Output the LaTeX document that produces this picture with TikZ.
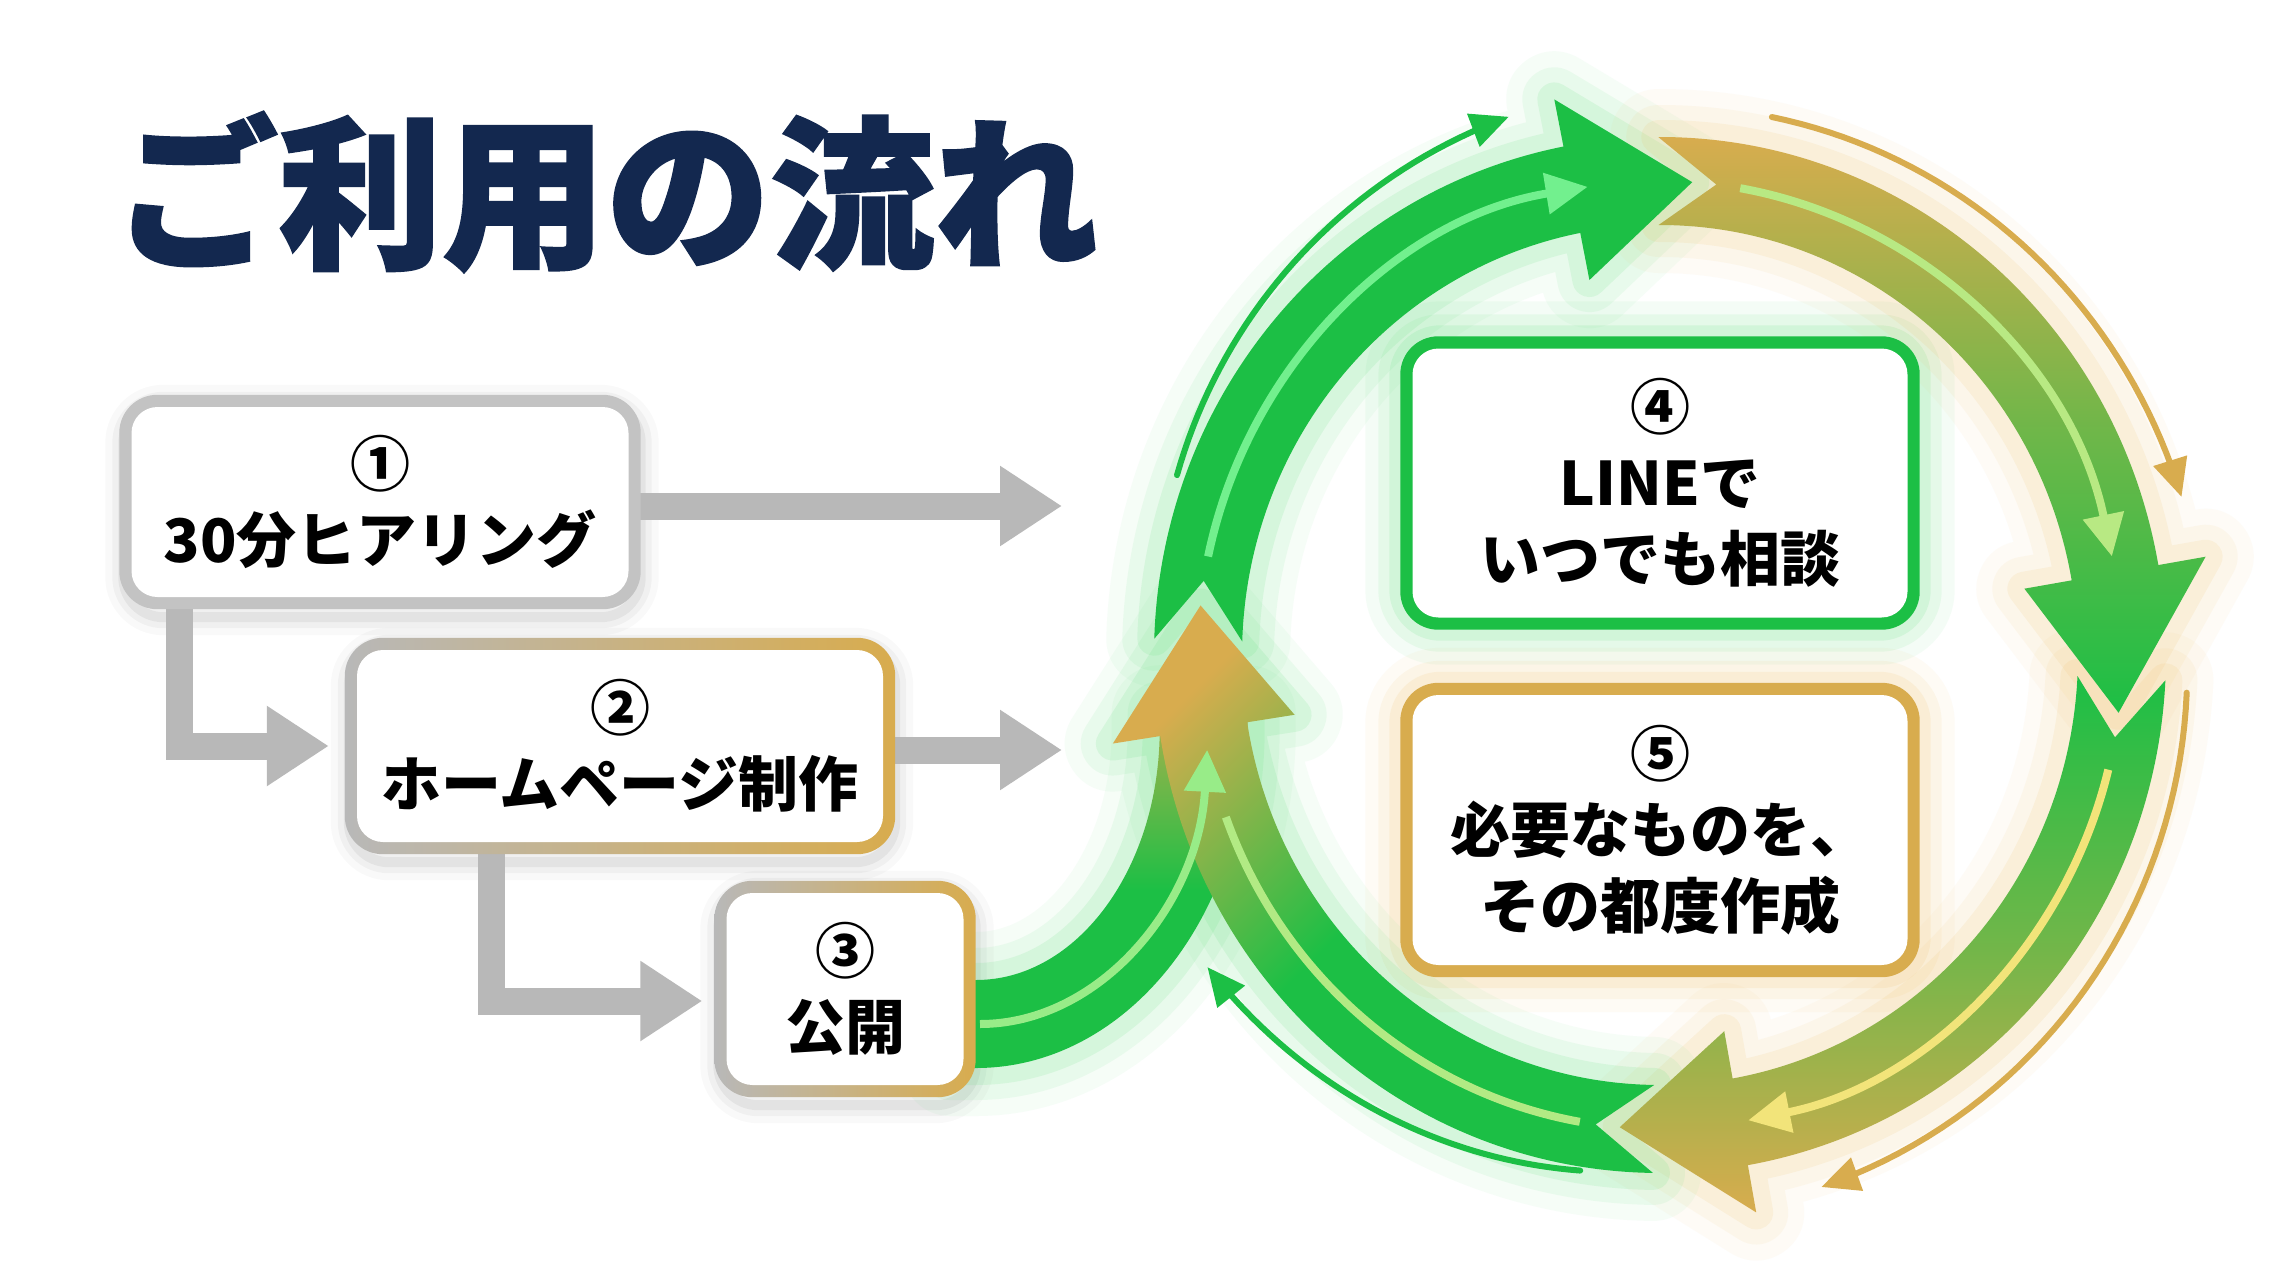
\documentclass[tikz,border=0pt]{standalone}
\usepackage{fontspec}
\newfontfamily\jp{Noto Sans CJK JP}
\newfontfamily\jpt{Noto Sans CJK JP}[BoldFeatures={FakeBold=1.5}]
\usetikzlibrary{arrows.meta,calc}
\pgfdeclarelayer{glow}
\pgfdeclarelayer{arr}
\pgfdeclarelayer{mid}
\pgfsetlayers{glow,arr,mid,main}
\definecolor{navy}{HTML}{13284F}
\definecolor{grn}{HTML}{1CBF45}
\definecolor{grnl}{HTML}{72F08E}
\definecolor{gld}{HTML}{D8AC4E}
\definecolor{gry}{HTML}{B8B8B8}
\definecolor{ylw}{HTML}{F2E47A}
\definecolor{glowg}{HTML}{4FDC6E}
\definecolor{glowo}{HTML}{F0BE60}
\newcommand\RXm{462pt}\newcommand\RYm{474pt}
\newcommand\RXo{506pt}\newcommand\RYo{518pt}
\newcommand\RXi{418pt}\newcommand\RYi{430pt}
\newcommand\RXh{554pt}\newcommand\RYh{566pt}
\newcommand\RXl{370pt}\newcommand\RYl{382pt}
% ring arrow band: options, tail angle, head base angle, tip angle, notch depth
\newcommand\ringband[5]{%
  \path[#1] (#2:{\RXo} and {\RYo}) arc[start angle=#2, end angle=#3, x radius=\RXo, y radius=\RYo]
    -- (#3:{\RXh} and {\RYh}) -- (#4:{\RXm} and {\RYm}) -- (#3:{\RXl} and {\RYl}) -- (#3:{\RXi} and {\RYi})
    arc[start angle=#3, end angle=#2, x radius=\RXi, y radius=\RYi]
    -- ({#2-#5}:{\RXm} and {\RYm}) -- cycle;}
\newcommand\ringglow[5]{%
  \foreach \ww/\oo in {96/0.05,64/0.08,34/0.12}{%
    \ringband{draw=#1,line width=\ww pt,opacity=\oo,line join=round}{#2}{#3}{#4}{#5}}}
\newcommand\sband[1]{%
  \path[#1] (950,-1068) -- (976,-1068)
    arc[start angle=-90, end angle=0, x radius=271.7, y radius=338.8]
    -- ++(0,16) -- (1159.7,-713.2) -- (1159.7,-729.2)
    arc[start angle=0, end angle=-90, x radius=183.7, y radius=250.8]
    -- (950,-980) -- cycle;}
\begin{document}
\begin{tikzpicture}[x=1pt,y=1pt,
  jptext/.style={font=\jp\bfseries\fontsize{60pt}{76pt}\selectfont, align=center, text=black},
  boxnode/.style={jptext, fill=white, rounded corners=26pt, inner sep=0pt},
  grayarrow/.style={draw=gry, line width=27pt, line join=miter, -{Triangle[length=62pt,width=76pt]}},
  hl/.style={line width=8pt, -{Triangle[length=42pt,width=40pt]}},
  thinarc/.style={line width=6pt, line cap=round, -{Triangle[length=38pt,width=34pt]}}]
\useasboundingbox (0,0) rectangle (2294,-1280);

% ---------- nodes ----------
\node[font=\jpt\bfseries\fontsize{164pt}{176pt}\selectfont, text=navy, anchor=west, inner sep=0pt] (title) at (114,-192) {ご利用の流れ};
\node[boxnode, minimum width=497pt, minimum height=190pt] (b1) at (380,-502) {①\\30分ヒアリング};
\node[boxnode, minimum width=526pt, minimum height=192pt] (b2) at (620,-746) {②\\ホームページ制作};
\node[boxnode, minimum width=237pt, minimum height=192pt] (b3) at (845,-989) {③\\公開};
\node[boxnode, minimum width=495pt, minimum height=269pt] (b4) at (1660,-483) {④\\LINEで\\いつでも相談};
\node[boxnode, minimum width=495pt, minimum height=270pt] (b5) at (1660,-830) {⑤\\必要なものを、\\その都度作成};
\coordinate (t1) at (1062,-506);
\coordinate (t2) at (1062,-750);

% ---------- glows and shadows ----------
\begin{pgfonlayer}{glow}
  \fill[white] (0,0) rectangle (2294,-1280);
  \foreach \n in {b1,b2,b3}{
    \foreach \ww/\oo in {36/0.025,22/0.035,10/0.05}{
      \draw[black, line width=\ww pt, opacity=\oo, rounded corners=40pt]
        ($(\n.south west)+(-8,-20)$) rectangle ($(\n.north east)+(12,4)$);}}
  \foreach \ww/\oo in {70/0.06,44/0.09,22/0.13}{
    \draw[glowg, line width=\ww pt, opacity=\oo, rounded corners=40pt]
      ($(b4.south west)+(-12,-12)$) rectangle ($(b4.north east)+(12,12)$);
    \draw[glowo, line width=\ww pt, opacity=\oo, rounded corners=40pt]
      ($(b5.south west)+(-12,-12)$) rectangle ($(b5.north east)+(12,12)$);}
  \foreach \ww/\oo in {96/0.05,64/0.08,34/0.12}{
    \sband{draw=glowg,line width=\ww pt,opacity=\oo,line join=round}}
  \begin{scope}[shift={(1660,-655)}]
    \ringglow{glowg}{178.2}{101}{86}{7.2}
    \ringglow{glowo}{90.2}{10}{-7}{7.2}
    \ringglow{glowo}{-2.8}{-80}{-95}{7.2}
    \ringglow{glowg}{-90.8}{-171}{-186}{7.2}
  \end{scope}
\end{pgfonlayer}

% ---------- arrows and ring ----------
\begin{pgfonlayer}{arr}
  \draw[grayarrow] (b1.east |- t1) -- (t1);
  \draw[grayarrow] (b2.east |- t2) -- (t2);
  \draw[grayarrow, shorten >=28pt] ([xshift=48pt]b1.south west) |- (b2.west);
  \draw[grayarrow, shorten >=24pt] ([xshift=135pt]b2.south west) |- ([yshift=-12pt]b3.west);

  \sband{top color=gld!75!grn, bottom color=grn, middle color=grn}

  \begin{scope}[shift={(1660,-655)}]
    \ringband{top color=gld, bottom color=grn, middle color=grn, shading angle=45}{-90.8}{-171}{-186}{7.2}
    \ringband{fill=grn}{178.2}{101}{86}{7.2}
    \ringband{top color=gld, bottom color=grn, middle color=gld!45!grn}{90.2}{10}{-7}{7.2}
    \ringband{top color=grn, bottom color=gld, middle color=grn!55!gld}{-2.8}{-80}{-95}{7.2}
    % highlights
    \draw[hl, grnl] (168:{\RXm} and {\RYm}) arc[start angle=168, end angle=99, x radius=\RXm, y radius=\RYm];
    \draw[hl, ylw!55!grnl] (80:{\RXm} and {\RYm}) arc[start angle=80, end angle=12, x radius=\RXm, y radius=\RYm];
    \draw[hl, ylw] (-14:{\RXm} and {\RYm}) arc[start angle=-14, end angle=-79, x radius=\RXm, y radius=\RYm];
    \draw[line width=8pt, grnl!50!ylw] (-100:{\RXm} and {\RYm}) arc[start angle=-100, end angle=-160, x radius=\RXm, y radius=\RYm];
    % thin outer arcs
    \draw[thinarc, grn] plot[variable=\t, domain=0:1, samples=40] ({160-54*\t}:{514+34*\t} and {526+34*\t});
    \draw[thinarc, gld] plot[variable=\t, domain=0:1, samples=40] ({78-61.5*\t}:{538+6*\t} and {550+6*\t});
    \draw[thinarc, gld] plot[variable=\t, domain=0:1, samples=40] ({-4-68.8*\t}:{528+17*\t} and {540+17*\t});
    \draw[thinarc, grn] plot[variable=\t, domain=0:1, samples=40] ({-99-47*\t}:{510+36*\t} and {522+36*\t});
  \end{scope}
  \draw[hl, grnl!70!ylw] (980,-1024) arc[start angle=-90, end angle=-4, x radius=227.7, y radius=294.8];
\end{pgfonlayer}

% ---------- box borders ----------
\begin{pgfonlayer}{mid}
  \fill[gry!85!white, rounded corners=38pt] ($(b1.south west)+(-12,-12)$) rectangle ($(b1.north east)+(12,12)$);
  \shade[left color=gry, right color=gld, rounded corners=38pt] ($(b2.south west)+(-12,-12)$) rectangle ($(b2.north east)+(12,12)$);
  \shade[left color=gry, right color=gld, rounded corners=38pt] ($(b3.south west)+(-12,-12)$) rectangle ($(b3.north east)+(12,12)$);
  \fill[grn, rounded corners=38pt] ($(b4.south west)+(-12,-12)$) rectangle ($(b4.north east)+(12,12)$);
  \fill[gld, rounded corners=38pt] ($(b5.south west)+(-12,-12)$) rectangle ($(b5.north east)+(12,12)$);
\end{pgfonlayer}
\end{tikzpicture}
\end{document}
